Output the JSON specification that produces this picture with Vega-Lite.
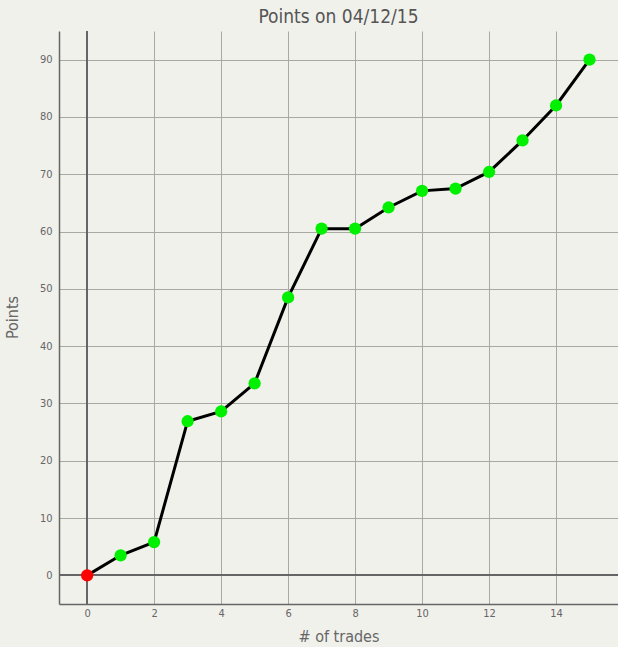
{
  "$schema": "https://vega.github.io/schema/vega-lite/v6.json",
  "width": 559,
  "height": 573,
  "autosize": {"type": "none"},
  "padding": {"left": 59, "top": 31, "right": 0, "bottom": 43},
  "background": "#f1f1ec",
  "config": {
    "view": {"stroke": null, "fill": "#f1f1ec"},
    "font": "DejaVu Sans Condensed, Liberation Sans, sans-serif",
    "title": {"fontSize": 19, "fontWeight": "normal", "color": "#555555", "offset": 3, "anchor": "middle"}
  },
  "title": "Points on 04/12/15",
  "data": {
    "values": [
      {"trade": 0, "points": 0, "kind": "start"},
      {"trade": 1, "points": 3.5, "kind": "trade"},
      {"trade": 2, "points": 5.8, "kind": "trade"},
      {"trade": 3, "points": 26.9, "kind": "trade"},
      {"trade": 4, "points": 28.6, "kind": "trade"},
      {"trade": 5, "points": 33.5, "kind": "trade"},
      {"trade": 6, "points": 48.5, "kind": "trade"},
      {"trade": 7, "points": 60.5, "kind": "trade"},
      {"trade": 8, "points": 60.5, "kind": "trade"},
      {"trade": 9, "points": 64.2, "kind": "trade"},
      {"trade": 10, "points": 67.1, "kind": "trade"},
      {"trade": 11, "points": 67.5, "kind": "trade"},
      {"trade": 12, "points": 70.4, "kind": "trade"},
      {"trade": 13, "points": 75.9, "kind": "trade"},
      {"trade": 14, "points": 82.0, "kind": "trade"},
      {"trade": 15, "points": 90, "kind": "trade"}
    ]
  },
  "encoding": {
    "x": {
      "field": "trade", "type": "quantitative",
      "scale": {"domain": [-0.84, 15.85], "nice": false, "zero": false},
      "axis": {
        "title": "# of trades", "values": [0, 2, 4, 6, 8, 10, 12, 14],
        "grid": true, "gridColor": "#a9a9a4", "gridWidth": 1,
        "ticks": false, "labelPadding": 3, "labelFontSize": 11, "labelColor": "#666666",
        "domainColor": "#666666", "domainWidth": 1.5,
        "titleFontSize": 16, "titleFontWeight": "normal", "titleColor": "#666666", "titlePadding": 10
      }
    },
    "y": {
      "field": "points", "type": "quantitative",
      "scale": {"domain": [-5, 95], "nice": false},
      "axis": {
        "title": "Points", "values": [0, 10, 20, 30, 40, 50, 60, 70, 80, 90],
        "grid": true, "gridColor": "#a9a9a4", "gridWidth": 1,
        "ticks": false, "labelPadding": 7, "labelFontSize": 11, "labelColor": "#666666",
        "domainColor": "#666666", "domainWidth": 1.5,
        "titleFontSize": 16, "titleFontWeight": "normal", "titleColor": "#666666",
        "titleX": -47, "titleY": 286, "titleAngle": 270, "titleBaseline": "middle", "titleAlign": "center"
      }
    }
  },
  "layer": [
    {"mark": {"type": "rule", "color": "#666666", "strokeWidth": 1.2}, "encoding": {"y": {"datum": 0}, "x": null}},
    {"mark": {"type": "rule", "color": "#666666", "strokeWidth": 1.2}, "encoding": {"x": {"datum": 0}, "y": null}},
    {"mark": {"type": "line", "color": "#000000", "strokeWidth": 3}},
    {
      "mark": {"type": "point", "filled": true, "opacity": 1, "size": 150},
      "encoding": {
        "color": {"field": "kind", "type": "nominal", "scale": {"domain": ["start", "trade"], "range": ["#ff0000", "#00f000"]}, "legend": null}
      }
    }
  ]
}
